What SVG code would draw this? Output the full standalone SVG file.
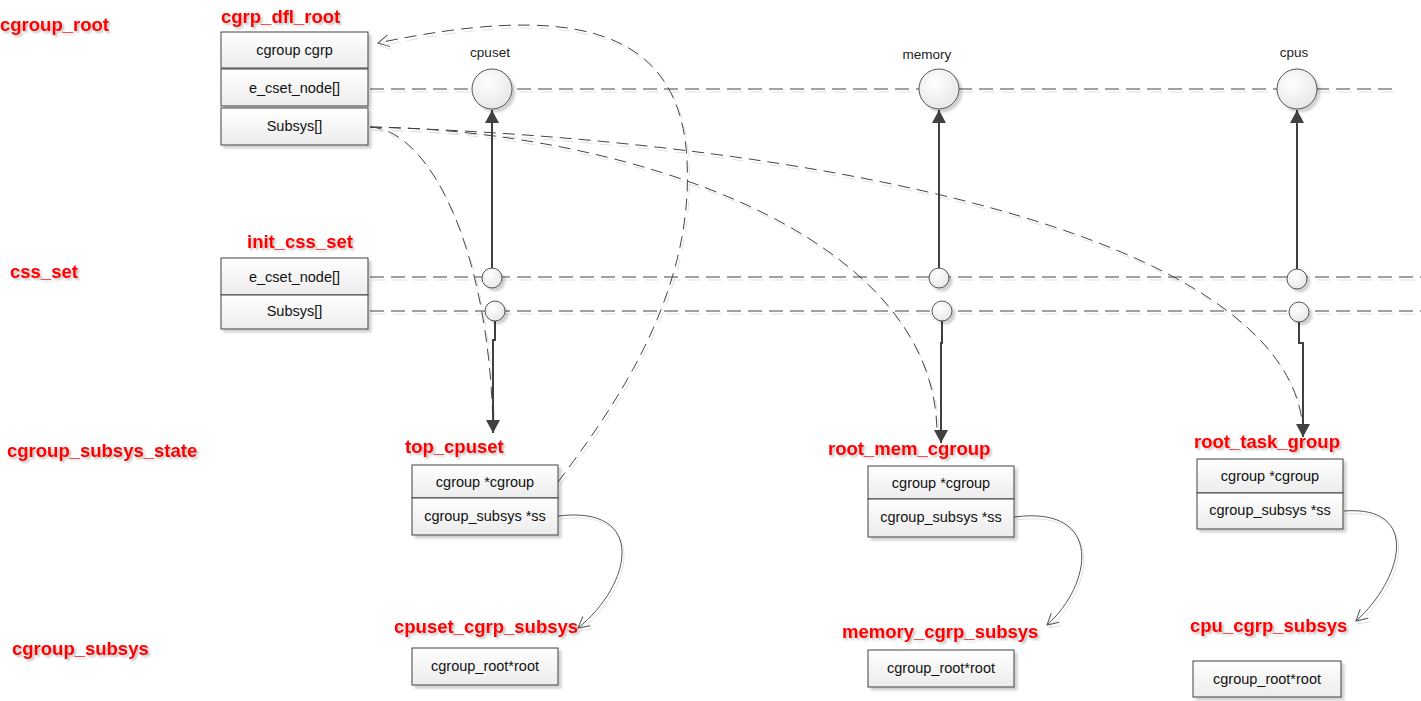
<svg xmlns="http://www.w3.org/2000/svg" width="1421" height="701" viewBox="0 0 1421 701">
  <defs>
    <linearGradient id="boxFill" x1="0" y1="0" x2="0" y2="1">
      <stop offset="0" stop-color="#ffffff"/>
      <stop offset="1" stop-color="#ececec"/>
    </linearGradient>
    <radialGradient id="ballFill" cx="0.4" cy="0.35" r="0.7">
      <stop offset="0" stop-color="#ffffff"/>
      <stop offset="1" stop-color="#e6e6e6"/>
    </radialGradient>
    <filter id="shadow" x="-10%" y="-10%" width="130%" height="140%">
      <feDropShadow dx="3" dy="3" stdDeviation="1.2" flood-color="#000" flood-opacity="0.18"/>
    </filter>
    <filter id="textShadow" x="-5%" y="-20%" width="115%" height="160%">
      <feDropShadow dx="2" dy="2" stdDeviation="0.8" flood-color="#000" flood-opacity="0.25"/>
    </filter>
    <filter id="lineShadow" x="-5%" y="-5%" width="110%" height="110%">
      <feDropShadow dx="2" dy="3" stdDeviation="0.6" flood-color="#000" flood-opacity="0.12"/>
    </filter>
    <marker id="solidHead" markerUnits="userSpaceOnUse" markerWidth="14" markerHeight="14" refX="13" refY="7" orient="auto">
      <path d="M0,0 L13,7 L0,14 Z" fill="#404040"/>
    </marker>
    <marker id="openHead" markerUnits="userSpaceOnUse" markerWidth="14" markerHeight="14" refX="12" refY="7" orient="auto">
      <path d="M1,1 L12,7 L1,13" fill="none" stroke="#555" stroke-width="1"/>
    </marker>
  </defs>
  <style>
    .box { fill: url(#boxFill); stroke: #404040; stroke-width: 1; }
    .field { font-family: "Liberation Sans", Arial, sans-serif; font-size: 14.5px; fill: #111; text-anchor: middle; }
    .title { font-family: "Liberation Sans", Arial, sans-serif; font-weight: bold; font-size: 18.5px; fill: #ff0000; }
    .sub { font-family: "Liberation Sans", Arial, sans-serif; font-size: 13.5px; fill: #222; text-anchor: middle; }
    .ball { fill: url(#ballFill); stroke: #555; stroke-width: 1; }
    .dash { fill: none; stroke: #444; stroke-width: 1; stroke-dasharray: 14 7; }
    .curve { fill: none; stroke: #444; stroke-width: 1; stroke-dasharray: 12 7; }
    .thick { fill: none; stroke: #404040; stroke-width: 2; }
    .thin { fill: none; stroke: #555; stroke-width: 1; }
  </style>

  <rect width="1421" height="701" fill="#ffffff"/>

  <!-- row captions -->
  <g id="row-labels" filter="url(#textShadow)">
    <text class="title" x="0" y="31">cgroup_root</text>
    <text class="title" x="10" y="278">css_set</text>
    <text class="title" x="7" y="457">cgroup_subsys_state</text>
    <text class="title" x="12" y="655">cgroup_subsys</text>
  </g>

  <!-- connectors -->
  <g id="connectors">
    <g filter="url(#lineShadow)">
      <!-- list heads -->
      <line class="dash" x1="370" y1="89" x2="1392" y2="89"/>
      <line class="dash" x1="370" y1="277" x2="1421" y2="277"/>
      <line class="dash" x1="370" y1="311" x2="1421" y2="311"/>
      <!-- subsys pointers from cgrp_dfl_root -->
      <path class="curve" d="M370,127 C430,130 490,250 493,430"/>
      <path class="curve" d="M370,127 C620,130 935,230 937,432"/>
      <path class="curve" d="M370,127 C800,140 1290,230 1303,430"/>
      <!-- css->cgroup back pointer -->
      <path class="curve" d="M558,482 C620,400 694,290 687,160 C680,20 560,5 378,43" marker-end="url(#openHead)"/>
    </g>
    <!-- e_cset_node links -->
    <line class="thick" x1="492" y1="268" x2="492" y2="110" marker-end="url(#solidHead)"/>
    <line class="thick" x1="939" y1="268" x2="939" y2="110" marker-end="url(#solidHead)"/>
    <line class="thick" x1="1297" y1="269" x2="1297" y2="110" marker-end="url(#solidHead)"/>
    <!-- subsys[] entries -->
    <path class="thick" d="M495,321 V340 H493 V433" marker-end="url(#solidHead)"/>
    <path class="thick" d="M942,321 V343 H941 V443" marker-end="url(#solidHead)"/>
    <path class="thick" d="M1299,322 V343 H1303 V437" marker-end="url(#solidHead)"/>
    <!-- ss pointers -->
    <g filter="url(#lineShadow)">
      <path class="thin" d="M558,516 C648,505 632,585 578,628" marker-end="url(#openHead)"/>
      <path class="thin" d="M1014,517 C1105,505 1092,585 1047,625" marker-end="url(#openHead)"/>
      <path class="thin" d="M1344,511 C1422,505 1402,580 1356,621" marker-end="url(#openHead)"/>
    </g>
  </g>

  <!-- cgrp_dfl_root -->
  <g id="cgrp_dfl_root">
    <text class="title" x="221" y="23" filter="url(#textShadow)">cgrp_dfl_root</text>
    <g filter="url(#shadow)">
      <rect class="box" x="221" y="32" width="147" height="36"/>
      <rect class="box" x="221" y="69" width="147" height="37"/>
      <rect class="box" x="221" y="108" width="147" height="37"/>
    </g>
    <text class="field" x="294.5" y="55">cgroup cgrp</text>
    <text class="field" x="294.5" y="93">e_cset_node[]</text>
    <text class="field" x="294.5" y="131">Subsys[]</text>
  </g>

  <!-- subsystem list heads -->
  <g id="cpuset-head">
    <text class="sub" x="490" y="57">cpuset</text>
    <circle class="ball" cx="492" cy="89" r="20" filter="url(#shadow)"/>
  </g>
  <g id="memory-head">
    <text class="sub" x="927" y="59">memory</text>
    <circle class="ball" cx="939" cy="89" r="20" filter="url(#shadow)"/>
  </g>
  <g id="cpus-head">
    <text class="sub" x="1294" y="57">cpus</text>
    <circle class="ball" cx="1297" cy="89" r="20" filter="url(#shadow)"/>
  </g>

  <!-- init_css_set -->
  <g id="init_css_set">
    <text class="title" x="247" y="248" filter="url(#textShadow)">init_css_set</text>
    <g filter="url(#shadow)">
      <rect class="box" x="221" y="258" width="147" height="37"/>
      <rect class="box" x="221" y="295" width="147" height="34"/>
    </g>
    <text class="field" x="294.5" y="282">e_cset_node[]</text>
    <text class="field" x="294.5" y="316">Subsys[]</text>
  </g>

  <!-- per-subsystem cset nodes -->
  <g id="cset-nodes" filter="url(#shadow)">
    <circle class="ball" cx="492" cy="278" r="10"/>
    <circle class="ball" cx="495" cy="311" r="10"/>
    <circle class="ball" cx="939" cy="278" r="10"/>
    <circle class="ball" cx="942" cy="311" r="10"/>
    <circle class="ball" cx="1297" cy="279" r="10"/>
    <circle class="ball" cx="1299" cy="312" r="10"/>
  </g>

  <!-- top_cpuset -->
  <g id="top_cpuset">
    <text class="title" x="405" y="453" filter="url(#textShadow)">top_cpuset</text>
    <g filter="url(#shadow)">
      <rect class="box" x="412" y="465" width="146" height="33"/>
      <rect class="box" x="412" y="498" width="146" height="37"/>
    </g>
    <text class="field" x="485" y="487">cgroup *cgroup</text>
    <text class="field" x="485" y="521">cgroup_subsys *ss</text>
  </g>

  <!-- root_mem_cgroup -->
  <g id="root_mem_cgroup">
    <text class="title" x="828" y="455" filter="url(#textShadow)">root_mem_cgroup</text>
    <g filter="url(#shadow)">
      <rect class="box" x="868" y="466" width="146" height="33"/>
      <rect class="box" x="868" y="499" width="146" height="38"/>
    </g>
    <text class="field" x="941" y="488">cgroup *cgroup</text>
    <text class="field" x="941" y="522">cgroup_subsys *ss</text>
  </g>

  <!-- root_task_group -->
  <g id="root_task_group">
    <text class="title" x="1194" y="448" filter="url(#textShadow)">root_task_group</text>
    <g filter="url(#shadow)">
      <rect class="box" x="1197" y="459" width="146" height="34"/>
      <rect class="box" x="1197" y="493" width="146" height="36"/>
    </g>
    <text class="field" x="1270" y="481">cgroup *cgroup</text>
    <text class="field" x="1270" y="515">cgroup_subsys *ss</text>
  </g>

  <!-- cpuset_cgrp_subsys -->
  <g id="cpuset_cgrp_subsys">
    <text class="title" x="394" y="633" filter="url(#textShadow)">cpuset_cgrp_subsys</text>
    <rect class="box" x="412" y="648" width="146" height="37" filter="url(#shadow)"/>
    <text class="field" x="485" y="671">cgroup_root*root</text>
  </g>

  <!-- memory_cgrp_subsys -->
  <g id="memory_cgrp_subsys">
    <text class="title" x="842" y="638" filter="url(#textShadow)">memory_cgrp_subsys</text>
    <rect class="box" x="868" y="650" width="146" height="37" filter="url(#shadow)"/>
    <text class="field" x="941" y="673">cgroup_root*root</text>
  </g>

  <!-- cpu_cgrp_subsys -->
  <g id="cpu_cgrp_subsys">
    <text class="title" x="1190" y="632" filter="url(#textShadow)">cpu_cgrp_subsys</text>
    <rect class="box" x="1193" y="661" width="148" height="36" filter="url(#shadow)"/>
    <text class="field" x="1267" y="684">cgroup_root*root</text>
  </g>
</svg>
